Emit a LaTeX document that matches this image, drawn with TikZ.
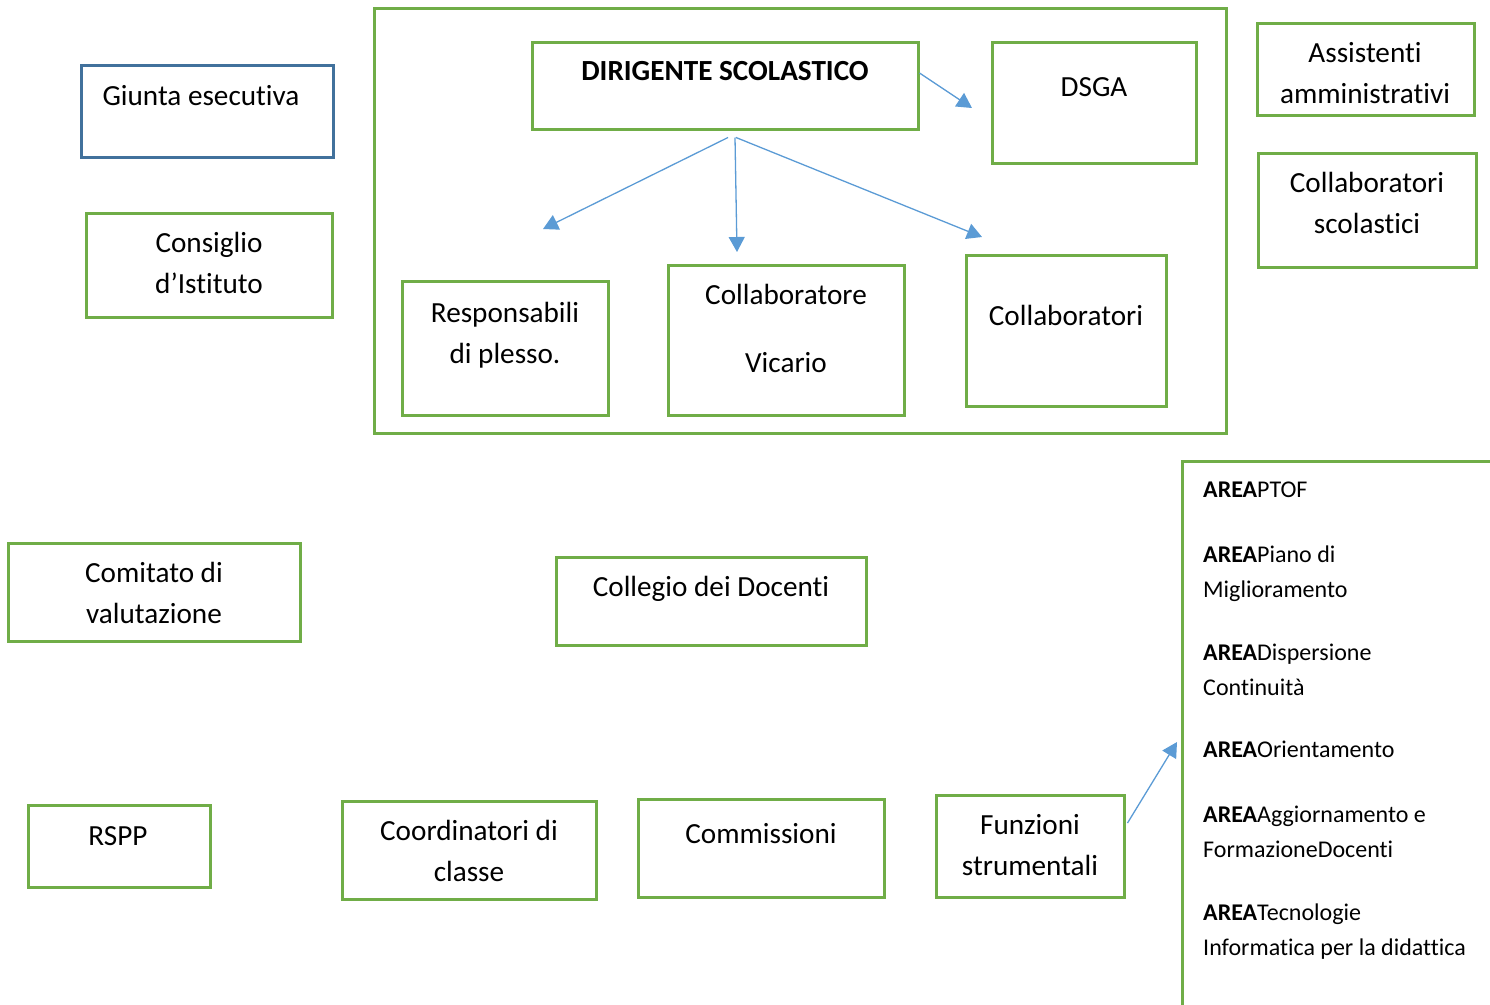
\documentclass[tikz,border=0pt]{standalone}
\usepackage{fontspec}
\setmainfont{Carlito}[RawFeature={-liga,-clig,-dlig,-calt}]
\usetikzlibrary{arrows.meta}
\definecolor{gr}{HTML}{70AD47}
\definecolor{bl}{HTML}{5B9BD5}
\definecolor{bb}{HTML}{41719C}
\newcommand\ctwo[2]{\vtop{\halign{\hfil##\hfil\cr #1\cr #2\cr}}}
\newcommand\ltwo[2]{\vtop{\hbox{#1}\hbox{#2}}}
\begin{document}
\begin{tikzpicture}[x=1pt,y=-1pt,
  gbox/.style={draw=gr, line width=3pt, inner sep=0pt, fill=none},
  bbox/.style={draw=bb, line width=3pt, inner sep=0pt},
  txt/.style={inner sep=0pt, anchor=base, font=\fontsize{29.2}{41}\selectfont},
  atxt/.style={inner sep=0pt, anchor=base west, font=\fontsize{24}{35}\selectfont},
  arr/.style={draw=bl, line width=1.3pt, -{Triangle[length=15pt,width=16pt]}}]
\useasboundingbox (0,0) rectangle (1490,1004);

% boxes
\node[gbox, minimum width=852pt, minimum height=425pt] (big) at (800,220.5) {};
\node[gbox, minimum width=386pt, minimum height=87pt] (dir) at (725,85.5) {};
\node[gbox, minimum width=204pt, minimum height=121pt] (dsga) at (1094,102.5) {};
\node[gbox, minimum width=217pt, minimum height=92pt] (assist) at (1365.5,69) {};
\node[gbox, minimum width=218pt, minimum height=114pt] (cscol) at (1367,210) {};
\node[bbox, minimum width=252pt, minimum height=92pt] (giunta) at (207,111) {};
\node[gbox, minimum width=246pt, minimum height=104pt] (consiglio) at (209,265) {};
\node[gbox, minimum width=206pt, minimum height=134pt] (resp) at (505,348) {};
\node[gbox, minimum width=236pt, minimum height=150pt] (vicario) at (786,340) {};
\node[gbox, minimum width=200pt, minimum height=151pt] (collab) at (1066,330.5) {};
\node[gbox, minimum width=292pt, minimum height=98pt] (comitato) at (154,592) {};
\node[gbox, minimum width=310pt, minimum height=88pt] (collegio) at (711,601) {};
\node[gbox, minimum width=182pt, minimum height=82pt] (rspp) at (119,846) {};
\node[gbox, minimum width=254pt, minimum height=98pt] (coord) at (469,850) {};
\node[gbox, minimum width=246pt, minimum height=98pt] (comm) at (761,848) {};
\node[gbox, minimum width=188pt, minimum height=102pt] (funz) at (1030,846) {};
\draw[draw=gr, line width=3pt] (1491,461) -- (1182,461) -- (1182,1005);

% texts
\node[txt, font=\fontsize{29.2}{41}\selectfont\bfseries] (dirT) at (725,80) {DIRIGENTE SCOLASTICO};
\node[txt] (dsgaT) at (1094,96) {DSGA};
\node[txt] (assistT) at (1365,62) {\ctwo{Assistenti}{amministrativi}};
\node[txt] (cscolT) at (1367,192) {\ctwo{Collaboratori}{scolastici}};
\node[txt] (giuntaT) at (201,105) {Giunta esecutiva};
\node[txt] (consiglioT) at (209,252) {\ctwo{Consiglio}{d’Istituto}};
\node[txt] (respT) at (505,322) {\ctwo{Responsabili}{di plesso.}};
\node[txt, font=\fontsize{29.2}{68}\selectfont] (vicarioT) at (786,304) {\ctwo{Collaboratore}{Vicario}};
\node[txt] (collabT) at (1066,325) {Collaboratori};
\node[txt] (comitatoT) at (154,582) {\ctwo{Comitato di}{valutazione}};
\node[txt] (collegioT) at (711,596) {Collegio dei Docenti};
\node[txt] (rsppT) at (118,845) {RSPP};
\node[txt] (coordT) at (469,840) {\ctwo{Coordinatori di}{classe}};
\node[txt] (commT) at (761,843) {Commissioni};
\node[txt] (funzT) at (1030,834) {\ctwo{Funzioni}{strumentali}};

\node[atxt] (a1) at (1203,497) {\textbf{AREA}PTOF};
\node[atxt] (a2) at (1203,562) {\ltwo{\textbf{AREA}Piano di}{Miglioramento}};
\node[atxt] (a3) at (1203,660) {\ltwo{\textbf{AREA}Dispersione}{Continuità}};
\node[atxt] (a4) at (1203,757) {\textbf{AREA}Orientamento};
\node[atxt] (a5) at (1203,822) {\ltwo{\textbf{AREA}Aggiornamento e}{FormazioneDocenti}};
\node[atxt] (a6) at (1203,920) {\ltwo{\textbf{AREA}Tecnologie}{Informatica per la didattica}};

% arrow ends
\coordinate (tDsga) at (972,108);
\coordinate (tResp) at (543,229);
\coordinate (tVic) at (737,252);
\coordinate (tCol) at (982,237);
\coordinate (tArea) at (1177,742);

\draw[arr] ([yshift=12.5pt]dir.east) -- (tDsga);
\draw[arr] ([shift={(3pt,-7pt)}]dir.south) -- (tResp);
\draw[arr] ([shift={(10pt,-7pt)}]dir.south) -- (tVic);
\draw[arr] ([shift={(11pt,-7pt)}]dir.south) -- (tCol);
\draw[arr] ([yshift=23pt]funz.east) ++(2pt,0) -- (tArea);
\end{tikzpicture}
\end{document}
